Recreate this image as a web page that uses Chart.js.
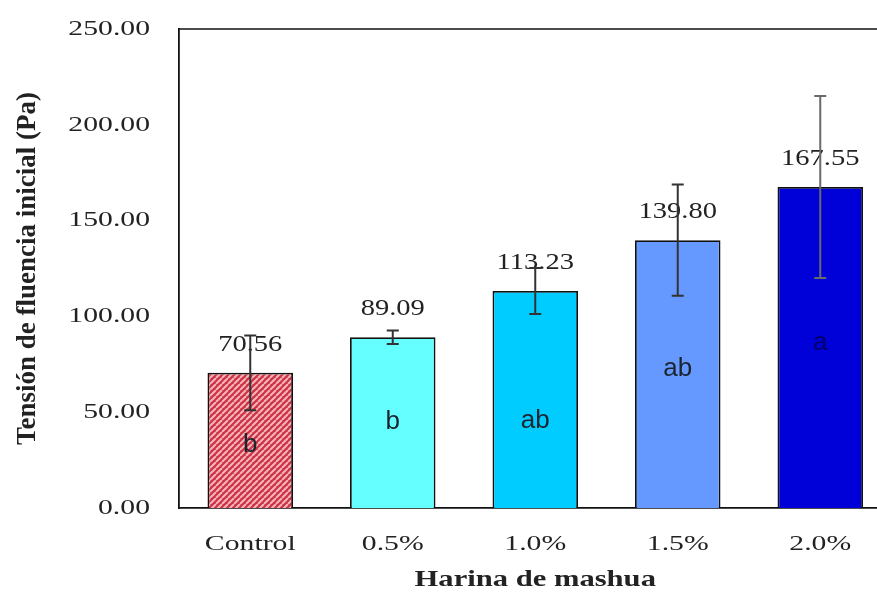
<!DOCTYPE html>
<html>
<head>
<meta charset="utf-8">
<script src="https://cdn.jsdelivr.net/npm/chart.js@4.4.1/dist/chart.umd.min.js"></script>
<style>
  html, body { margin: 0; padding: 0; background: #fff; overflow: hidden; }
  #wrap { width: 895px; height: 596px; }
</style>
</head>
<body>
<div id="wrap"><canvas id="c" width="895" height="596"></canvas></div>
<script>
// Initial yield stress by mashua flour level
const categories = ['Control', '0.5%', '1.0%', '1.5%', '2.0%'];
const means = [70.56, 89.09, 113.23, 139.80, 167.55];
const sd = [19.5, 3.5, 12, 29, 47.5];
const letters = ['b', 'b', 'ab', 'ab', 'a'];
const yTicks = [0, 50, 100, 150, 200, 250];

// height (in axis units) where each significance letter sits
const letterLevel = [33, 45, 45.5, 72.5, 86];

const serif = '"Liberation Serif", "Times New Roman", serif';
const sans = '"Liberation Sans", Arial, sans-serif';

function hatch() {
  const s = 6;
  const p = document.createElement('canvas');
  p.width = s; p.height = s;
  const g = p.getContext('2d');
  g.fillStyle = '#cc3445';
  g.fillRect(0, 0, s, s);
  g.strokeStyle = '#f6b4bb';
  g.lineWidth = 2;
  g.beginPath();
  for (let k = -1; k <= 1; k++) {
    g.moveTo(k * s, s);
    g.lineTo(k * s + s, 0);
  }
  g.stroke();
  const ctx = document.getElementById('c').getContext('2d');
  return ctx.createPattern(p, 'repeat');
}

const fills = [hatch(), '#66ffff', '#00ccff', '#6699ff', '#0000d8'];

// text widened horizontally by factor sx
function wideText(ctx, text, x, y, sx) {
  ctx.save();
  ctx.translate(x, y);
  ctx.scale(sx, 1);
  ctx.fillText(text, 0, 0);
  ctx.restore();
}

const annotate = {
  id: 'annotate',
  afterDatasetsDraw(chart) {
    const { ctx, chartArea } = chart;
    const x = chart.scales.x;
    const y = chart.scales.y;
    const meta = chart.getDatasetMeta(0);
    ctx.save();
    // top frame line
    ctx.strokeStyle = '#111';
    ctx.lineWidth = 1.6;
    ctx.beginPath();
    ctx.moveTo(chartArea.left, chartArea.top);
    ctx.lineTo(chartArea.right + 10, chartArea.top);
    ctx.stroke();

    ctx.fillStyle = '#222';
    ctx.textBaseline = 'middle';

    // y tick labels
    ctx.font = '22px ' + serif;
    ctx.textAlign = 'right';
    yTicks.forEach(v => {
      wideText(ctx, v.toFixed(2), 150, y.getPixelForValue(v), 1.35);
    });

    // x tick labels and axis title
    ctx.textAlign = 'center';
    categories.forEach((c, i) => {
      wideText(ctx, c, x.getPixelForValue(i), chartArea.bottom + 36, 1.35);
    });
    ctx.font = 'bold 23px ' + serif;
    wideText(ctx, 'Harina de mashua', (chartArea.left + chartArea.right) / 2, chartArea.bottom + 72, 1.33);

    meta.data.forEach((bar, i) => {
      // significance letters
      ctx.fillStyle = i === 4 ? '#00006a' : '#1c2430';
      ctx.font = '26px ' + sans;
      ctx.fillText(letters[i], bar.x, y.getPixelForValue(letterLevel[i]));
      // value labels
      ctx.fillStyle = '#222';
      ctx.font = '23px ' + serif;
      wideText(ctx, means[i].toFixed(2), bar.x, bar.y - 28, 1.24);
    });

    // error bars
    meta.data.forEach((bar, i) => {
      const hi = y.getPixelForValue(means[i] + sd[i]);
      const lo = y.getPixelForValue(means[i] - sd[i]);
      ctx.strokeStyle = i === 4 ? '#6a6a6a' : '#333';
      ctx.lineWidth = 2;
      ctx.beginPath();
      ctx.moveTo(bar.x, hi); ctx.lineTo(bar.x, lo);
      ctx.moveTo(bar.x - 6, hi); ctx.lineTo(bar.x + 6, hi);
      ctx.moveTo(bar.x - 6, lo); ctx.lineTo(bar.x + 6, lo);
      ctx.stroke();
    });
    ctx.restore();
  }
};

new Chart(document.getElementById('c'), {
  type: 'bar',
  data: {
    labels: categories,
    datasets: [{
      data: means,
      backgroundColor: fills,
      borderColor: '#111',
      borderWidth: 1.8,
      barPercentage: 0.6,
      categoryPercentage: 1.0
    }]
  },
  options: {
    responsive: false,
    animation: false,
    layout: { padding: { top: 29, right: 3.5, left: 0, bottom: 0 } },
    plugins: { legend: { display: false }, tooltip: { enabled: false } },
    scales: {
      x: {
        grid: { display: false, drawTicks: false },
        border: { display: true, color: '#111', width: 1.8 },
        ticks: { display: false },
        afterFit(scale) { scale.height = 88; }
      },
      y: {
        min: 0, max: 250,
        afterBuildTicks(scale) { scale.ticks = yTicks.map(v => ({ value: v })); },
        grid: { display: false, drawTicks: false },
        border: { display: true, color: '#111', width: 1.8 },
        ticks: { display: false },
        title: {
          display: true, text: 'Tensión de fluencia inicial (Pa)', color: '#222',
          font: { family: serif, size: 27, weight: 'bold' },
          padding: { top: 12, bottom: 0 }
        },
        afterFit(scale) { scale.width = 179; }
      }
    }
  },
  plugins: [annotate]
});
</script>
</body>
</html>
